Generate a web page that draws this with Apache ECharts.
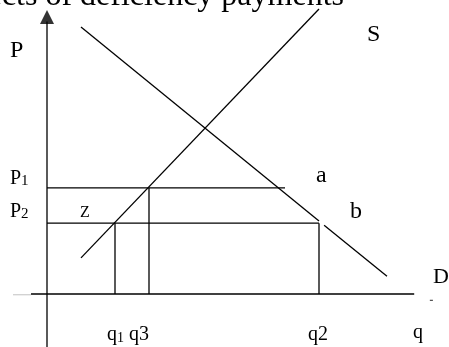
<!DOCTYPE html>
<html><head><meta charset="utf-8">
<script src="https://cdn.jsdelivr.net/npm/echarts@6/dist/echarts.min.js"></script>
<style>html,body{margin:0;padding:0;background:#fff;overflow:hidden}#c{width:449px;height:347px}</style>
</head><body><div id="c"></div>
<script>
// ---- data (quantity q, price P) ----
const Q1 = 20, Q3 = 30, Q2 = 80;
const P1 = 30, P2 = 20;
const supply = [[10, 10.2], [80, 80.5]];
const demandUpper = [[10, 75.4], [80, 20.6]];
const demandLower = [[81.5, 19.4], [100, 5]];
const p1Line = [[0, P1], [70, P1]];
const p2Line = [[0, P2], [Q2, P2]];
const q1Line = [[Q1, 0], [Q1, P2]];
const q3Line = [[Q3, 0], [Q3, P1]];
const q2Line = [[Q2, 0], [Q2, P2]];
const xAxisLine = [[-4.7, 0], [108, 0]];
const xAxisGhost = [[-10, -0.2], [-4.7, -0.2]];
const yAxisLine = [[0, -16], [0, 77]];
const arrowTip = [[0, 80.2]];
const strayMark = [[112.6, -1.8], [113.5, -1.8]];

// ---- layout (pixel mapping of the diagram) ----
const W = 449, H = 347, OX = 47, OY = 294, SX = 3.4, SY = 3.54;
const FONT = '"Liberation Serif","Times New Roman",serif';

const chart = echarts.init(document.getElementById('c'), null, {renderer: 'canvas'});
function seg(data, color) {
  return {type: 'line', data: data, symbol: 'none', silent: true, animation: false,
    lineStyle: {color: color || '#000', width: 1.3}};
}
function txt(text, x, y, size, align) {
  return {type: 'text', x: x, y: y, silent: true,
    style: {text: text, font: size + 'px ' + FONT, fill: '#000', textAlign: align || 'left', textVerticalAlign: 'top'}};
}
function rich(text, x, y, size, dsize) {
  return {type: 'text', x: x, y: y, silent: true,
    style: {text: text, textVerticalAlign: 'top',
      rich: {m: {fontFamily: FONT, fontSize: size, fill: '#000', verticalAlign: 'bottom'},
             d: {fontFamily: FONT, fontSize: dsize, fill: '#000', verticalAlign: 'bottom'}}}};
}

chart.setOption({
  animation: false,
  backgroundColor: '#fff',
  grid: {left: 0, right: 0, top: 0, bottom: 0},
  xAxis: {type: 'value', min: -OX / SX, max: (W - OX) / SX, show: false},
  yAxis: {type: 'value', min: -(H - OY) / SY, max: OY / SY, show: false},
  series: [
    seg(xAxisLine), seg(xAxisGhost, '#d0d0d0'), seg(yAxisLine), seg(strayMark, '#555'),
    seg(supply), seg(demandUpper), seg(demandLower),
    seg(p1Line), seg(p2Line), seg(q1Line), seg(q3Line), seg(q2Line),
    {type: 'scatter', data: arrowTip, symbol: 'triangle', symbolSize: [14, 14],
     symbolOffset: [0, '50%'], itemStyle: {color: '#000'}, silent: true}
  ],
  graphic: [
    txt('Effects of deficiency payments', 344, -19, 32, 'right'),
    txt('P', 10, 39, 24), txt('S', 367, 23, 24),
    rich('{m|P}{d|1}', 10, 169, 20, 15), rich('{m|P}{d|2}', 10, 202, 20, 15),
    txt('Z', 80, 205, 16), txt('a', 316, 164, 24), txt('b', 350, 200, 24),
    txt('D', 433, 266, 22),
    rich('{m|q}{d|1}{m| q3}', 107, 325, 20, 14),
    txt('q2', 308, 325, 20), txt('q', 413, 323, 20)
  ]
});
</script></body></html>
